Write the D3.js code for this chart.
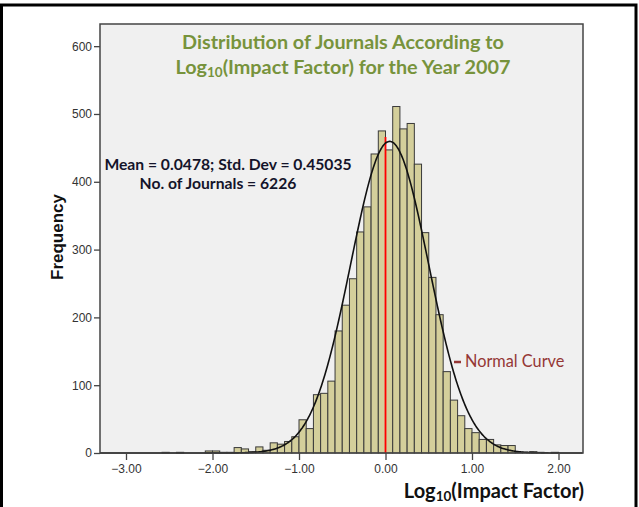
<!DOCTYPE html>
<html>
<head>
<meta charset="utf-8">
<script src="https://cdn.jsdelivr.net/npm/d3@7/dist/d3.min.js"></script>
<style>
  html, body { margin: 0; padding: 0; background: #fff; }
  svg { display: block; }
</style>
</head>
<body>
<svg id="chart" width="639" height="507"></svg>
<script>
// ---- Data ----
const binStarts = [-2.5833, -2.5, -2.4167, -2.3333, -2.25, -2.1667, -2.0833, -2.0, -1.9167, -1.8333,
  -1.75, -1.6667, -1.5833, -1.5, -1.4167, -1.3333, -1.25, -1.1667, -1.0833, -1.0,
  -0.9167, -0.8333, -0.75, -0.6667, -0.5833, -0.5, -0.4167, -0.3333, -0.25, -0.1667, -0.0833,
  0.0, 0.0833, 0.1667, 0.25, 0.3333, 0.4167, 0.5, 0.5833, 0.6667, 0.75, 0.8333, 0.9167,
  1.0, 1.0833, 1.1667, 1.25, 1.3333, 1.4167, 1.5, 1.5833, 1.6667, 1.75, 1.8333, 1.9167];
const frequencies = [1, 0, 1, 0, 0, 0, 3, 3, 1, 1,
  8, 6, 2, 9, 4, 15, 13, 17, 24, 49,
  36, 86, 88, 106, 180, 218, 257, 326, 363, 441, 475,
  447, 511, 478, 486, 426, 325, 259, 204, 120, 78, 55, 36,
  30, 20, 20, 12, 11, 11, 1, 1, 2, 1, 0, 1];
const binWidth = 1 / 12;
const meanValue = 0.0478;
const stdDev = 0.45035;
const nJournals = 6226;
const redLineX = 0.0;
const redLineTop = 466;
const xTicks = [-3, -2, -1, 0, 1, 2];
const yTicks = [0, 100, 200, 300, 400, 500, 600];
const titleLine1 = "Distribution of Journals According to";
const statsLine1 = "Mean = 0.0478; Std. Dev = 0.45035";
const statsLine2 = "No. of Journals = 6226";
const legendLabel = "Normal Curve";

// ---- Layout ----
const svg = d3.select("#chart");
const plot = { left: 100, right: 583, top: 24, bottom: 453 };
const x = d3.scaleLinear().domain([-3.3006, 2.2832]).range([plot.left, plot.right]);
const y = d3.scaleLinear().domain([0, 632.7]).range([plot.bottom, plot.top]);
const uiFont = "Lato, 'Open Sans', sans-serif";

// outer frame
svg.append("rect").attr("x", 1.5).attr("y", 5).attr("width", 634.5).attr("height", 600)
  .attr("fill", "#fff").attr("stroke", "#000").attr("stroke-width", 3);

// plot background
svg.append("rect").attr("x", plot.left).attr("y", plot.top)
  .attr("width", plot.right - plot.left).attr("height", plot.bottom - plot.top)
  .attr("fill", "#f0f0f0");

// bars
const bins = binStarts.map((s, i) => ({ x0: s, x1: s + binWidth, f: frequencies[i] })).filter(d => d.f > 0);
svg.append("g").selectAll("rect").data(bins).join("rect")
  .attr("x", d => x(d.x0))
  .attr("y", d => y(d.f))
  .attr("width", d => x(d.x1) - x(d.x0))
  .attr("height", d => y(0) - y(d.f))
  .attr("fill", "#d4cf9b")
  .attr("stroke", "#3a3a3a")
  .attr("stroke-width", 1);

// red line
svg.append("line")
  .attr("x1", x(redLineX)).attr("x2", x(redLineX))
  .attr("y1", y(redLineTop)).attr("y2", y(0))
  .attr("stroke", "#ff0000").attr("stroke-width", 1.8);

// normal curve
const scaleFactor = nJournals * binWidth / (stdDev * Math.sqrt(2 * Math.PI));
const curvePts = d3.range(x.domain()[0], x.domain()[1] + 0.001, 0.01)
  .map(v => [v, scaleFactor * Math.exp(-0.5 * Math.pow((v - meanValue) / stdDev, 2))]);
svg.append("path").datum(curvePts)
  .attr("d", d3.line().x(d => x(d[0])).y(d => y(d[1])).curve(d3.curveBasis))
  .attr("fill", "none").attr("stroke", "#111").attr("stroke-width", 1.6);

// plot border
svg.append("rect").attr("x", plot.left).attr("y", plot.top)
  .attr("width", plot.right - plot.left).attr("height", plot.bottom - plot.top)
  .attr("fill", "none").attr("stroke", "#444").attr("stroke-width", 1.5);

// axes
const yAxis = svg.append("g").attr("transform", `translate(${plot.left},0)`)
  .call(d3.axisLeft(y).tickValues(yTicks).tickSize(6).tickPadding(2).tickFormat(d3.format("d")));
const xAxis = svg.append("g").attr("transform", `translate(0,${plot.bottom})`)
  .call(d3.axisBottom(x).tickValues(xTicks).tickSize(7).tickPadding(4).tickFormat(d3.format(".2f")));
[yAxis, xAxis].forEach(g => {
  g.select(".domain").remove();
  g.selectAll("line").attr("stroke", "#444").attr("stroke-width", 1.3);
  g.selectAll("text").attr("font-family", "Arial, 'Liberation Sans', sans-serif")
    .attr("font-size", 12).attr("fill", "#333");
});

// axis titles
svg.append("text")
  .attr("transform", "translate(63,237) rotate(-90)")
  .attr("text-anchor", "middle")
  .attr("font-family", "Arial, 'Liberation Sans', sans-serif")
  .attr("font-weight", "bold").attr("font-size", 17).attr("fill", "#111")
  .text("Frequency");

const xl = svg.append("text")
  .attr("x", 584).attr("y", 498).attr("text-anchor", "end")
  .attr("font-family", uiFont)
  .attr("font-weight", "bold").attr("font-size", 20).attr("fill", "#111");
xl.append("tspan").text("Log");
xl.append("tspan").attr("font-size", 13.5).attr("dy", 3).text("10");
xl.append("tspan").attr("dy", -3).text("(Impact Factor)");

// chart title
const titleColor = "#77933c";
const cx = (plot.left + plot.right) / 2 + 1.5;
svg.append("text").attr("x", cx).attr("y", 49).attr("text-anchor", "middle")
  .attr("font-family", uiFont).attr("font-weight", "bold")
  .attr("font-size", 19.8).attr("fill", titleColor).text(titleLine1);
const t2 = svg.append("text").attr("x", cx).attr("y", 74).attr("text-anchor", "middle")
  .attr("font-family", uiFont).attr("font-weight", "bold")
  .attr("font-size", 19.8).attr("fill", titleColor);
t2.append("tspan").text("Log");
t2.append("tspan").attr("font-size", 13.5).attr("dy", 3).text("10");
t2.append("tspan").attr("dy", -3).text("(Impact Factor) for the Year 2007");

// stats annotation
svg.append("text").attr("x", 228).attr("y", 170).attr("text-anchor", "middle")
  .attr("font-family", uiFont).attr("font-weight", "bold")
  .attr("font-size", 15.7).attr("fill", "#14142a").text(statsLine1);
svg.append("text").attr("x", 218).attr("y", 189).attr("text-anchor", "middle")
  .attr("font-family", uiFont).attr("font-weight", "bold")
  .attr("font-size", 15.7).attr("fill", "#14142a").text(statsLine2);

// legend
svg.append("line").attr("x1", 454).attr("x2", 461).attr("y1", 362).attr("y2", 362)
  .attr("stroke", "#953735").attr("stroke-width", 2.5);
svg.append("text").attr("x", 465).attr("y", 367)
  .attr("font-family", uiFont)
  .attr("font-size", 16.3).attr("fill", "#953735").text(legendLabel);
</script>
</body>
</html>
